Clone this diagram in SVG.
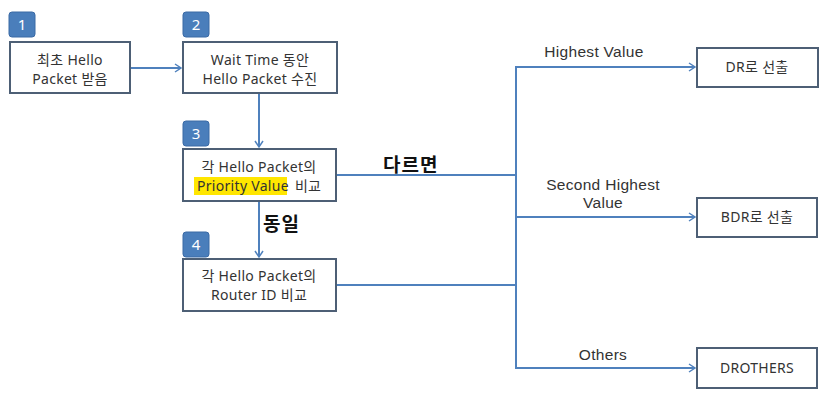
<svg xmlns="http://www.w3.org/2000/svg" width="832" height="403" viewBox="0 0 832 403">
<defs>
<marker id="arr" markerWidth="10" markerHeight="10" refX="8" refY="5" orient="auto" markerUnits="userSpaceOnUse">
<polyline points="2,1 8,5 2,9" fill="none" stroke="#4f81bd" stroke-width="1.5"/>
</marker>
<style>
.box{fill:#fff;stroke:#4d5f75;stroke-width:2}
.badge{fill:#4a7ebb;stroke:#3a6aa5;stroke-width:1}
.bn{font-family:"Noto Sans","Noto Sans CJK KR",sans-serif;font-size:15px;fill:#fff;text-anchor:middle}
.t{font-family:"Noto Sans","Noto Sans CJK KR",sans-serif;font-size:14px;letter-spacing:0.3px;fill:#333;text-anchor:middle}
.lbl{font-family:"Liberation Sans","Noto Sans CJK KR",sans-serif;font-size:15.5px;letter-spacing:0.3px;fill:#333;text-anchor:middle}
.kb{font-family:"Noto Sans CJK KR",sans-serif;font-size:19px;letter-spacing:1px;font-weight:bold;fill:#111}
.c{fill:none;stroke:#4f81bd;stroke-width:2}
</style>
</defs>
<rect width="832" height="403" fill="#fff"/>
<g id="connectors">
<line class="c" x1="130" y1="68" x2="181" y2="68" marker-end="url(#arr)"/>
<line class="c" x1="259" y1="93" x2="259" y2="147" marker-end="url(#arr)"/>
<line class="c" x1="259" y1="201" x2="259" y2="257" marker-end="url(#arr)"/>
<polyline class="c" points="336,175 516,175"/>
<polyline class="c" points="336,285 516,285"/>
<polyline class="c" points="695,67 516,67 516,368 695,368" marker-end="url(#arr)"/>
<line class="c" x1="516" y1="67" x2="695" y2="67" marker-end="url(#arr)"/>
<line class="c" x1="516" y1="217" x2="695" y2="217" marker-end="url(#arr)"/>
<text class="kb" x="383" y="172">다르면</text>
<text class="kb" x="263" y="231">동일</text>
<text class="lbl" x="594" y="57">Highest Value</text>
<text class="lbl" x="603" y="190">Second Highest<tspan x="603" dy="18">Value</tspan></text>
<text class="lbl" x="603" y="360">Others</text>
</g>
<g id="node1">
<rect class="badge" x="9" y="12" width="26" height="25" rx="3"/>
<text class="bn" x="22" y="30">1</text>
<rect class="box" x="10" y="42" width="120" height="51"/>
<text class="t" x="70" y="65">최초 Hello<tspan x="70" dy="18.5">Packet 받음</tspan></text>
</g>
<g id="node2">
<rect class="badge" x="183" y="12" width="26" height="25" rx="3"/>
<text class="bn" x="196" y="30">2</text>
<rect class="box" x="183" y="42" width="154" height="51"/>
<text class="t" x="260" y="65">Wait Time 동안<tspan x="260" dy="18.5">Hello Packet 수진</tspan></text>
</g>
<g id="node3">
<rect class="badge" x="183" y="121" width="26" height="25" rx="3"/>
<text class="bn" x="196" y="139">3</text>
<rect class="box" x="183" y="149" width="153" height="52"/>
<rect x="194" y="177" width="93" height="18" fill="#ffe600"/>
<text class="t" x="259" y="172">각 Hello Packet의<tspan x="197" dy="19" style="text-anchor:start">Priority Value</tspan><tspan dx="6">비교</tspan></text>
</g>
<g id="node4">
<rect class="badge" x="183" y="232" width="26" height="25" rx="3"/>
<text class="bn" x="196" y="250">4</text>
<rect class="box" x="183" y="259" width="153" height="52"/>
<text class="t" x="259" y="281">각 Hello Packet의<tspan x="259" dy="18.5">Router ID 비교</tspan></text>
</g>
<g id="dr">
<rect class="box" x="697" y="48" width="121" height="39"/>
<text class="t" x="757" y="72">DR로 선출</text>
</g>
<g id="bdr">
<rect class="box" x="697" y="198" width="120" height="39"/>
<text class="t" x="757" y="222">BDR로 선출</text>
</g>
<g id="drothers">
<rect class="box" x="697" y="348" width="120" height="40"/>
<text class="t" x="757" y="373">DROTHERS</text>
</g>
</svg>
